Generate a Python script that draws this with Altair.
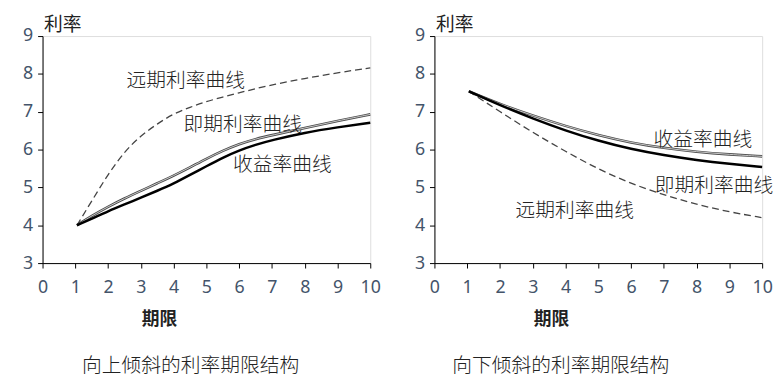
import altair as alt
import pandas as pd

# ---- data ----
up_years = [1.05, 1.5, 2, 2.5, 3, 3.5, 4, 4.5, 5, 5.5, 6, 6.5, 7, 8, 9, 10]
up_forward = [4.0, 4.64, 5.35, 5.95, 6.37, 6.68, 6.95, 7.12, 7.27, 7.39, 7.5, 7.61, 7.71, 7.88, 8.03, 8.16]
up_spot = [4.0, 4.25, 4.49, 4.71, 4.91, 5.11, 5.31, 5.53, 5.76, 5.97, 6.15, 6.28, 6.38, 6.57, 6.76, 6.93]
up_yield = [4.0, 4.17, 4.37, 4.55, 4.73, 4.91, 5.1, 5.33, 5.56, 5.79, 5.98, 6.13, 6.25, 6.45, 6.59, 6.71]

down_years = [1.05, 2, 3, 4, 5, 6, 7, 8, 9, 10]
down_yield = [7.54, 7.2, 6.9, 6.62, 6.38, 6.18, 6.04, 5.94, 5.87, 5.82]
down_spot = [7.54, 7.17, 6.82, 6.5, 6.23, 6.01, 5.85, 5.72, 5.62, 5.54]
down_forward = [7.54, 7.0, 6.45, 5.95, 5.48, 5.1, 4.8, 4.55, 4.35, 4.2]

up_labels = ["远期利率曲线", "即期利率曲线", "收益率曲线"]
up_label_x = [4.37, 6.11, 7.32]
up_label_y = [7.80, 6.65, 5.60]

down_labels = ["收益率曲线", "即期利率曲线", "远期利率曲线"]
down_label_x = [8.19, 8.53, 4.28]
down_label_y = [6.26, 5.03, 4.37]

x_ticks = list(range(0, 11))
y_ticks = list(range(3, 10))

titles = ["向上倾斜的利率期限结构", "向下倾斜的利率期限结构"]

CJK = "Noto Sans CJK SC"
NUM = "Noto Sans"
TICK_COLOR = "#44546A"
TEXT_COLOR = "#222222"


def panel(years, thin, thick, dashed, labels, lx, ly, title, title_dx):
    n = len(years)
    df = pd.DataFrame({
        "期限": years * 3,
        "利率": thin + thick + dashed,
        "曲线": ["thin"] * n + ["thick"] * n + ["dashed"] * n,
    })
    lab = pd.DataFrame({"期限": lx, "利率": ly, "text": labels})

    x = alt.X(
        "期限:Q",
        scale=alt.Scale(domain=[0, 10], nice=False, zero=False),
        axis=alt.Axis(
            values=x_ticks, format="d", grid=False,
            labelFont=NUM, labelFontSize=18, labelColor=TICK_COLOR,
            labelPadding=11, labelFlush=False,
            tickColor="#000", tickSize=5, domainColor="#000",
            title="期限", titleFont=CJK, titleFontSize=18,
            titleFontWeight="bold", titleColor=TEXT_COLOR,
            titleX=118, titleY=57, titleAlign="center", titleBaseline="middle",
        ),
    )
    y = alt.Y(
        "利率:Q",
        scale=alt.Scale(domain=[3, 9], nice=False, zero=False),
        axis=alt.Axis(
            values=y_ticks, format="d", grid=False,
            labelFont=NUM, labelFontSize=18, labelColor=TICK_COLOR,
            labelPadding=5, labelFlush=False,
            tickColor="#000", tickSize=5, domainColor="#000",
            title="利率", titleFont=CJK, titleFontSize=19,
            titleFontWeight="normal", titleColor=TEXT_COLOR,
            titleAngle=0, titleX=1, titleY=-12, titleAlign="left",
            titleBaseline="middle",
        ),
    )
    base = alt.Chart(df)
    dashed_l = base.transform_filter(alt.datum["曲线"] == "dashed").mark_line(
        interpolate="basis", color="#444444", strokeWidth=1.3, strokeDash=[7, 4]
    ).encode(x=x, y=y)
    thin_outer = base.transform_filter(alt.datum["曲线"] == "thin").mark_line(
        interpolate="basis", color="#4a4a4a", strokeWidth=2.6
    ).encode(x=x, y=y)
    thin_inner = base.transform_filter(alt.datum["曲线"] == "thin").mark_line(
        interpolate="basis", color="#d8d8d8", strokeWidth=0.9
    ).encode(x=x, y=y)
    thick_l = base.transform_filter(alt.datum["曲线"] == "thick").mark_line(
        interpolate="basis", color="#000000", strokeWidth=2.5
    ).encode(x=x, y=y)
    text_l = alt.Chart(lab).mark_text(
        font=CJK, fontSize=20, fontWeight=300, color=TEXT_COLOR,
        align="center", baseline="middle"
    ).encode(x=x, y=y, text="text:N")

    return alt.layer(dashed_l, thin_outer, thin_inner, thick_l, text_l).properties(
        width=332, height=230,
        title=alt.Title(
            title, orient="bottom", font=CJK, fontSize=20, fontWeight=300,
            color=TEXT_COLOR, dx=title_dx, offset=28,
        ),
    )


left = panel(up_years, up_spot, up_yield, up_forward,
             up_labels, up_label_x, up_label_y, titles[0], -16)
right = panel(down_years, down_yield, down_spot, down_forward,
              down_labels, down_label_x, down_label_y, titles[1], -38)

chart = alt.hconcat(left, right, spacing=33).properties(
    padding={"left": 14, "top": 4, "right": 0, "bottom": 0}
).configure_view(stroke="#666666", strokeWidth=1.5).configure(background="white")

chart.save("out.html", embed_options={"renderer": "svg", "actions": False})
